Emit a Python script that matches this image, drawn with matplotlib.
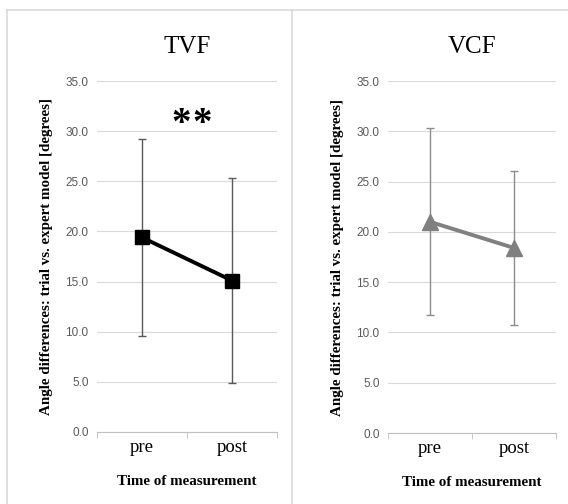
import numpy as np
import matplotlib
matplotlib.use("Agg")
import matplotlib.pyplot as plt
from matplotlib.lines import Line2D

# -- Data ------------------------------------------------------------------
categories = ["pre", "post"]
panel_titles = ["TVF", "VCF"]

tvf_mean = [19.4, 15.1]
tvf_sd   = [9.8, 10.2]

vcf_mean = [21.0, 18.4]
vcf_sd   = [9.3, 7.7]

y_ticks = [0.0, 5.0, 10.0, 15.0, 20.0, 25.0, 30.0, 35.0]
signif_x = [0.43, 0.665]   # one star each
signif_y = 30.7

# -- Style -----------------------------------------------------------------
serif = "Liberation Serif"
sans = "Liberation Sans"
grid_col = "#d9d9d9"
frame_col = "#d9d9d9"

W, H = 568, 504
fig = plt.figure(figsize=(W / 100, H / 100), dpi=100)
fig.patch.set_facecolor("white")


def px_axes(x0, x1, y_top, y_bot):
    return fig.add_axes([x0 / W, 1 - y_bot / H, (x1 - x0) / W, (y_bot - y_top) / H])


ax_l = px_axes(97, 277, 81, 432)
ax_r = px_axes(388, 556, 81, 433)

series = [
    (ax_l, tvf_mean, tvf_sd, "black", "#595959", "s", 9.5),
    (ax_r, vcf_mean, vcf_sd, "#808080", "#8c8c8c", "^", 11),
]

x = np.arange(len(categories))

for i, (ax, mean, sd, col, ecol, mk, ms) in enumerate(series):
    ax.errorbar(x, mean, yerr=sd, fmt="none", ecolor=ecol, elinewidth=1.0,
                capsize=3, capthick=1.0, zorder=2)
    ax.plot(x, mean, color=col, lw=2.8, marker=mk, ms=ms, zorder=3)

    ax.set_xlim(-0.5, 1.5)
    ax.set_ylim(0, 35)
    ax.set_yticks(y_ticks)
    ax.set_yticklabels([f"{v:.1f}" for v in y_ticks], fontfamily=sans,
                       fontsize=8.5, color="#595959")
    ax.tick_params(axis="y", length=0, pad=6)
    ax.grid(axis="y", color=grid_col, lw=0.8)
    ax.set_axisbelow(True)

    ax.set_xticks(x)
    ax.set_xticklabels(categories, fontfamily=serif, fontsize=13.5)
    ax.tick_params(axis="x", which="major", length=0, pad=5)
    ax.set_xticks([-0.5, 0.5, 1.5], minor=True)
    ax.tick_params(axis="x", which="minor", length=4, color="#bfbfbf", direction="out")

    for s in ["left", "right", "top"]:
        ax.spines[s].set_visible(False)
    ax.spines["bottom"].set_color("#bfbfbf")
    ax.spines["bottom"].set_linewidth(0.8)

    ax.set_ylabel("Angle differences: trial vs. expert model [degrees]",
                  fontfamily=serif, fontweight="bold", fontsize=10.8, labelpad=9)
    ax.set_xlabel("Time of measurement", fontfamily=serif, fontweight="bold",
                  fontsize=10.8, labelpad=14)
    ax.set_title(panel_titles[i], fontfamily=serif, fontsize=18, pad=20)

# significance marker (pre vs post, TVF)
for sx in signif_x:
    ax_l.text(sx, signif_y, "*", ha="center", va="center",
              fontfamily=serif, fontweight="bold", fontsize=28)

# panel frames
fy_top = 1 - 10 / H
for xs, ys in [
    ([7 / W, 7 / W], [0, fy_top]),
    ([7 / W, 1], [fy_top, fy_top]),
    ([292 / W, 292 / W], [0, fy_top]),
]:
    fig.add_artist(Line2D(xs, ys, transform=fig.transFigure, color=frame_col, lw=1.2))

fig.savefig("out.png", dpi=100)
